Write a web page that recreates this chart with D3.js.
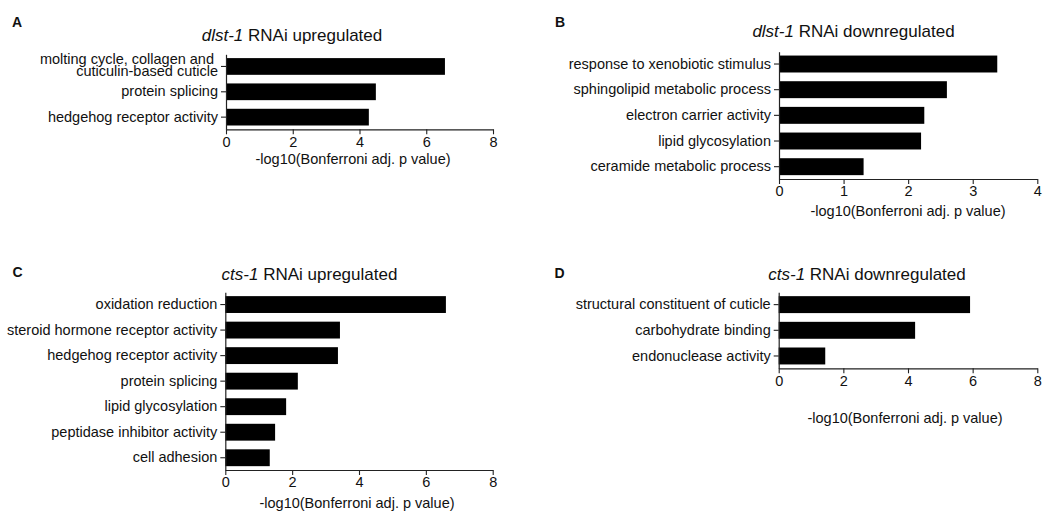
<!DOCTYPE html>
<html><head><meta charset="utf-8">
<script src="https://cdn.jsdelivr.net/npm/d3@7"></script>
<style>
body{margin:0;background:#fff;}
svg{font-family:"Liberation Sans",Arial,sans-serif;}
</style></head>
<body><svg id="chart" width="1061" height="513"></svg>
<script>
// Panel A: dlst-1 RNAi upregulated
const categoriesA = ["molting cycle, collagen and|cuticulin-based cuticle", "protein splicing", "hedgehog receptor activity"];
const valuesA = [6.56, 4.49, 4.28];
const ticksA = [0, 2, 4, 6, 8];
// Panel B: dlst-1 RNAi downregulated
const categoriesB = ["response to xenobiotic stimulus", "sphingolipid metabolic process", "electron carrier activity", "lipid glycosylation", "ceramide metabolic process"];
const valuesB = [3.38, 2.60, 2.25, 2.20, 1.31];
const ticksB = [0, 1, 2, 3, 4];
// Panel C: cts-1 RNAi upregulated
const categoriesC = ["oxidation reduction", "steroid hormone receptor activity", "hedgehog receptor activity", "protein splicing", "lipid glycosylation", "peptidase inhibitor activity", "cell adhesion"];
const valuesC = [6.60, 3.43, 3.37, 2.17, 1.82, 1.49, 1.33];
const ticksC = [0, 2, 4, 6, 8];
// Panel D: cts-1 RNAi downregulated
const categoriesD = ["structural constituent of cuticle", "carbohydrate binding", "endonuclease activity"];
const valuesD = [5.92, 4.22, 1.44];
const ticksD = [0, 2, 4, 6, 8];

const xLabel = "-log10(Bonferroni adj. p value)";

const panels = [
  {letter:"A", gene:"dlst-1", rest:" RNAi upregulated", cats:categoriesA, vals:valuesA, ticks:ticksA,
   x:[226,493], y:[54.3,129.3], lx:12, ly:26.7, tx:292, ty:40.7, ax:353, ay:164},
  {letter:"B", gene:"dlst-1", rest:" RNAi downregulated", cats:categoriesB, vals:valuesB, ticks:ticksB,
   x:[779,1037.3], y:[51.7,179], lx:555, ly:27.3, tx:853.5, ty:36.5, ax:908, ay:216},
  {letter:"C", gene:"cts-1", rest:" RNAi upregulated", cats:categoriesC, vals:valuesC, ticks:ticksC,
   x:[225.3,492.7], y:[292.3,470], lx:12.5, ly:277, tx:309.5, ty:280, ax:357, ay:508},
  {letter:"D", gene:"cts-1", rest:" RNAi downregulated", cats:categoriesD, vals:valuesD, ticks:ticksD,
   x:[778.7,1037.3], y:[292.3,368.3], lx:554.5, ly:278.3, tx:867, ty:280, ax:905, ay:423}
];

const svg = d3.select("#chart");
const ink = "#111";

panels.forEach(p => {
  const g = svg.append("g");
  const x = d3.scaleLinear().domain([p.ticks[0], p.ticks[p.ticks.length-1]]).range(p.x);
  const y = d3.scaleBand().domain(p.cats).range(p.y).paddingInner(0.34).paddingOuter(0.15);

  g.selectAll("rect").data(p.cats).join("rect")
    .attr("x", x(0))
    .attr("y", d => y(d))
    .attr("width", (d,i) => x(p.vals[i]) - x(0))
    .attr("height", y.bandwidth())
    .attr("fill", "#000");

  const xa = g.append("g").attr("transform", `translate(0,${p.y[1]})`)
    .call(d3.axisBottom(x).tickValues(p.ticks).tickFormat(d3.format("d")).tickSize(5).tickPadding(2).tickSizeOuter(0));
  const ya = g.append("g").attr("transform", `translate(${p.x[0]},0)`)
    .call(d3.axisLeft(y).tickSize(5).tickPadding(3).tickSizeOuter(0));

  [xa, ya].forEach(a => {
    a.selectAll("path").attr("stroke", "#222").attr("stroke-width", 1.2);
    a.selectAll("line").attr("stroke", "#222").attr("stroke-width", 1.1);
    a.selectAll("text").attr("fill", ink).style("font-size", "14.5px");
  });

  ya.selectAll(".tick text").each(function(d) {
    const parts = d.split("|");
    if (parts.length > 1) {
      const t = d3.select(this).text(null);
      t.append("tspan").attr("x", -12).attr("dy", "-0.12em").text(parts[0]);
      t.append("tspan").attr("x", -8).attr("dy", "0.88em").text(parts[1]);
      t.attr("dy", null).attr("y", 0).attr("transform", "translate(0,-1)");
    }
  });

  g.append("text").attr("x", p.lx).attr("y", p.ly)
    .attr("font-weight", "bold").attr("font-size", 14).attr("fill", ink).text(p.letter);

  const t = g.append("text").attr("x", p.tx).attr("y", p.ty)
    .attr("text-anchor", "middle").attr("font-size", 17).attr("fill", ink);
  t.append("tspan").attr("font-style", "italic").text(p.gene);
  t.append("tspan").text(p.rest);

  g.append("text").attr("x", p.ax).attr("y", p.ay)
    .attr("text-anchor", "middle").attr("font-size", 14.5).attr("fill", ink).text(xLabel);
});
</script></body></html>
